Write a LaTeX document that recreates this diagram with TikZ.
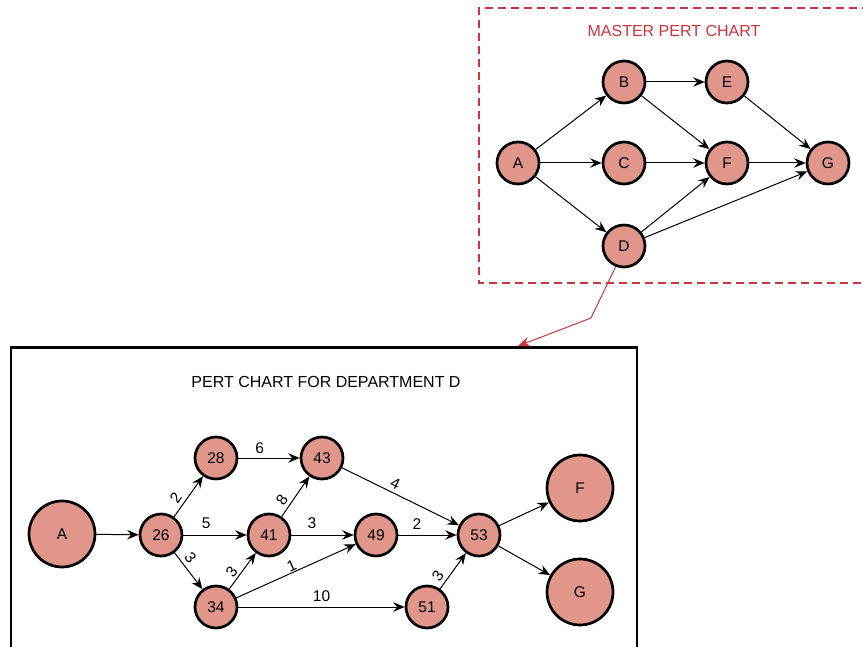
\documentclass[tikz,border=0pt]{standalone}
\usepackage{fontspec}
\setmainfont{Liberation Sans}
\usetikzlibrary{arrows.meta}
\definecolor{nodefill}{RGB}{224,150,138}
\definecolor{pertred}{RGB}{204,52,64}
\tikzset{
  pn/.style={circle,draw=black,line width=2.7pt,fill=nodefill,minimum size=42pt,inner sep=0pt,font=\fontsize{15.5}{18}\selectfont},
  bign/.style={pn,minimum size=66pt},
  ar/.style={line width=1pt,-{Stealth[length=11.5pt,width=9.5pt,inset=4pt]}},
  lbl/.style={font=\fontsize{15.5}{18}\selectfont,above,sloped,inner sep=3.5pt},
}
\begin{document}
\begin{tikzpicture}[x=1pt,y=-1pt]
\useasboundingbox (0,0) rectangle (863,647);
\clip (0,0) rectangle (863,647);
% master chart box
\draw[draw=pertred,line width=1.3pt,dash pattern=on 8pt off 5pt] (870,8) -- (479,8) -- (479,283) -- (870,283);
\node[text=pertred,font=\fontsize{16}{19}\selectfont] (mtitle) at (674,31) {MASTER PERT CHART};
\node[pn] (mA) at (518,163) {A};
\node[pn] (mB) at (624,82) {B};
\node[pn] (mC) at (624,163) {C};
\node[pn] (mD) at (624,246) {D};
\node[pn] (mE) at (727,82) {E};
\node[pn] (mF) at (727,163) {F};
\node[pn] (mG) at (828,163) {G};
\draw[ar] (mA) -- (mB);
\draw[ar] (mA) -- (mC);
\draw[ar] (mA) -- (mD);
\draw[ar] (mB) -- (mE);
\draw[ar] (mB) -- (mF);
\draw[ar] (mC) -- (mF);
\draw[ar] (mD) -- (mF);
\draw[ar] (mD) -- (mG);
\draw[ar] (mE) -- (mG);
\draw[ar] (mF) -- (mG);
% department box
\draw[line width=2.6pt] (11,660) -- (11,347.5) -- (637,347.5) -- (637,660);
\coordinate (boxtop) at (518,346);
\coordinate (bend) at (591,318);
\draw[pertred,line width=1pt,-{Stealth[length=12pt,width=10pt,inset=4pt]}] (mD.-112) -- (bend) -- (boxtop);
\node[font=\fontsize{16}{19}\selectfont] (dtitle) at (326,382) {PERT CHART FOR DEPARTMENT D};
\node[bign] (A) at (62,534) {A};
\node[pn] (n26) at (161,535) {26};
\node[pn] (n28) at (216,458) {28};
\node[pn] (n43) at (322,458) {43};
\node[pn] (n41) at (269,535) {41};
\node[pn] (n49) at (376,535) {49};
\node[pn] (n53) at (479,535) {53};
\node[pn] (n34) at (216,607) {34};
\node[pn] (n51) at (427,607) {51};
\node[bign] (F) at (580,488) {F};
\node[bign] (G) at (580,592) {G};
\draw[ar] (A) -- (n26);
\draw[ar] (n26) -- node[lbl,pos=0.32] {2} (n28);
\draw[ar] (n26) -- node[lbl,pos=0.36,inner sep=5.5pt] {5} (n41);
\draw[ar] (n26) -- node[lbl,pos=0.30] {3} (n34);
\draw[ar] (n28) -- node[lbl,pos=0.35] {6} (n43);
\draw[ar] (n41) -- node[lbl,pos=0.29] {8} (n43);
\draw[ar] (n41) -- node[lbl,pos=0.33,inner sep=5.5pt] {3} (n49);
\draw[ar] (n34) -- node[lbl,pos=0.35,inner sep=2.5pt] {3} (n41);
\draw[ar] (n34) -- node[lbl,pos=0.485,inner sep=0.5pt] {1} (n49);
\draw[ar] (n34) -- node[lbl,pos=0.5,inner sep=4.5pt] {10} (n51);
\draw[ar] (n43) -- node[lbl,pos=0.42] {4} (n53);
\draw[ar] (n49) -- node[lbl,pos=0.32,inner sep=5.5pt] {2} (n53);
\draw[ar] (n51) -- node[lbl,pos=0.21] {3} (n53);
\draw[ar] (n53) -- (F);
\draw[ar] (n53) -- (G);
\end{tikzpicture}
\end{document}
